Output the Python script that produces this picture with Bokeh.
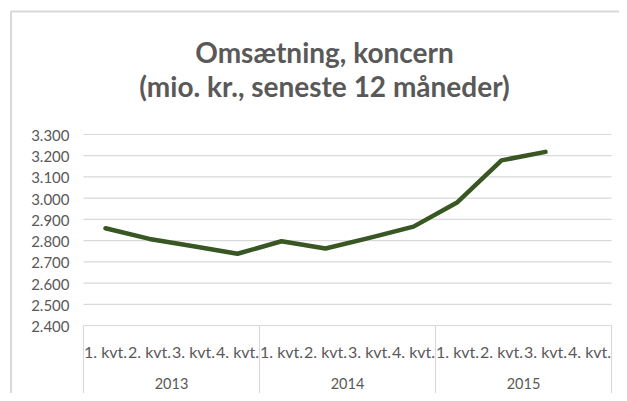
import numpy as np
from bokeh.plotting import figure
from bokeh.models import Range1d, ColumnDataSource
from bokeh.core.properties import value
from bokeh.embed import file_html
from bokeh.resources import INLINE

# ---- data ----
years = ["2013", "2014", "2015"]
quarters = ["1. kvt.", "2. kvt.", "3. kvt.", "4. kvt."]
revenue = [2858, 2808, 2773, 2738, 2797, 2763, 2813, 2866, 2981, 3178, 3218, None]
y_ticks = [2400, 2500, 2600, 2700, 2800, 2900, 3000, 3100, 3200, 3300]
y_tick_labels = ["2.400", "2.500", "2.600", "2.700", "2.800", "2.900", "3.000", "3.100", "3.200", "3.300"]
title_lines = ["Omsætning, koncern", "(mio. kr., seneste 12 måneder)"]

# ---- layout helpers (picture pixels -> data) ----
W, H = 619, 393
ORIGIN = 0
PLOT_LEFT, CAT_PX = 83, 44
Y_LO_PX, Y_HI_PX = 325, 134
Y_LO, Y_HI = y_ticks[0], y_ticks[-1]
UPP = (Y_HI - Y_LO) / (Y_LO_PX - Y_HI_PX)  # data units per px


def xd(px):
    return (px - PLOT_LEFT) / CAT_PX


def yd(py):
    return Y_LO + (Y_LO_PX - py) * UPP


TXT = "#595959"
GRID = "#d9d9d9"
FONT = "Lato"

p = figure(width=W, height=H, output_backend="svg", toolbar_location=None,
           x_range=Range1d(xd(ORIGIN), xd(ORIGIN + W)),
           y_range=Range1d(yd(ORIGIN + H), yd(ORIGIN)),
           x_axis_type=None, y_axis_type=None, min_border=0)
p.outline_line_color = None
p.grid.visible = False
p.background_fill_color = "white"
p.border_fill_color = "white"

n_cat = len(years) * len(quarters)

# chart border (left and top visible)
p.line(x=[xd(10.5), xd(10.5), xd(700)], y=[yd(700), yd(11), yd(11)],
       line_color=GRID, line_width=2)

# horizontal gridlines
p.segment(x0=[0] * len(y_ticks), x1=[n_cat] * len(y_ticks), y0=y_ticks, y1=y_ticks,
          line_color=GRID, line_width=1.2)

# year separators in the category axis
bounds = [i * len(quarters) for i in range(len(years) + 1)]
p.segment(x0=bounds, x1=bounds, y0=[Y_LO] * len(bounds), y1=[yd(393)] * len(bounds),
          line_color=GRID, line_width=1.2)

# y tick labels
p.text(x=[0] * len(y_ticks), y=y_ticks, text=y_tick_labels,
       text_font=value(FONT), text_font_size="15px", text_color=TXT,
       text_align="right", text_baseline="middle", x_offset=-14, y_offset=1)

# category labels
cat_x = [i + 0.5 for i in range(n_cat)]
cat_lbl = [q for _ in years for q in quarters]
p.text(x=cat_x, y=[yd(350.5)] * n_cat, text=cat_lbl,
       text_font=value(FONT), text_font_size="16px", text_color=TXT,
       text_align="center", text_baseline="middle")

year_x = [i * len(quarters) + len(quarters) / 2 for i in range(len(years))]
p.text(x=year_x, y=[yd(383)] * len(years), text=years,
       text_font=value(FONT), text_font_size="14.5px", text_color=TXT,
       text_align="center", text_baseline="middle")

# title
p.text(x=[xd(324)] * 2, y=[yd(51), yd(85)], text=title_lines,
       text_font=value(FONT), text_font_size="28px", text_font_style="bold",
       text_color=TXT, text_align="center", text_baseline="middle")

# data line
vals = [np.nan if v is None else v for v in revenue]
src = ColumnDataSource(dict(x=cat_x, y=vals))
p.line("x", "y", source=src, line_color="#385723", line_width=4.5,
       line_join="round", line_cap="round")

open("out.html", "w").write(file_html(p, INLINE))
